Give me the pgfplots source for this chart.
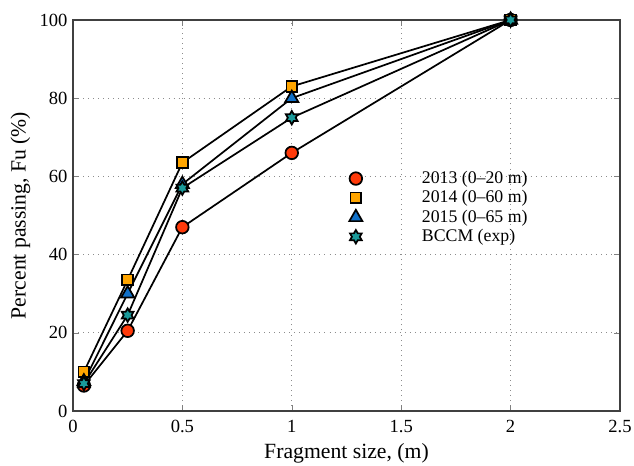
\documentclass[border=0pt]{standalone}
\usepackage{fontspec}
\setmainfont{Liberation Serif}
\usepackage{pgfplots}
\pgfplotsset{compat=1.18}
\definecolor{cRed}{HTML}{FF3A0A}
\definecolor{cOrange}{HTML}{FFA500}
\definecolor{cBlue}{HTML}{1070C8}
\definecolor{cTeal}{HTML}{1A9A9A}
% six-pointed star marker
\pgfdeclareplotmark{hexstar}{%
  \pgfpathmoveto{\pgfqpointpolar{90}{\pgfplotmarksize}}%
  \foreach \a in {120,150,...,420}{%
    \pgfmathsetmacro\r{mod(\a,60)==0 ? 0.58 : 1}%
    \pgfpathlineto{\pgfqpointpolar{\a}{\r\pgfplotmarksize}}%
  }%
  \pgfpathclose
  \pgfusepathqfillstroke}
\begin{document}
\begin{tikzpicture}
\begin{axis}[
    scale only axis,
    width=348pt, height=248.7pt,
    xmin=0, xmax=2.5, ymin=0, ymax=100,
    xtick={0,0.5,1,1.5,2,2.5},
    ytick={0,20,40,60,80,100},
    xticklabels={0,0.5,1,1.5,2,2.5},
    tick align=inside,
    major tick length=4pt,
    axis line style={black!75, line width=0.8pt},
    grid=major,
    grid style={black!45, line width=0.6pt, dash pattern=on 0.6pt off 2.6pt},
    tick label style={font=\fontsize{11.8}{13}\selectfont},
    xticklabel style={yshift=-2.5pt},
    /pgf/number format/assume math mode=true,
    xlabel={Fragment size, (m)},
    ylabel={Percent passing, Fu (\%)},
    label style={font=\fontsize{13.8}{15}\selectfont},
    xlabel style={yshift=0pt},
    ylabel style={yshift=-1pt},
    legend style={at={(axis cs:1.24,63)}, anchor=north west, draw=none, fill=none,
        font=\fontsize{11.3}{12}\selectfont, row sep=-1pt, cells={anchor=west}},
    legend image code/.code={\path (0pt,0pt) (39.5pt,0pt);
        \draw[#1, only marks] plot coordinates {(0pt,0pt)};},
    every axis plot/.append style={black, line width=1.1pt, mark options={solid, line width=0.8pt, draw=black}},
]
\addplot[mark=*, mark size=4pt, mark options={fill=cRed}] coordinates {
    (0.05,6.5) (0.25,20.5) (0.5,47) (1,66) (2,100)};
\addplot[mark=square*, mark size=3.4pt, mark options={fill=cOrange}] coordinates {
    (0.05,10) (0.25,33.5) (0.5,63.5) (1,83) (2,100)};
\addplot[mark=triangle*, mark size=4.8pt, mark options={fill=cBlue}] coordinates {
    (0.05,7.5) (0.25,30) (0.5,58) (1,80) (2,100)};
\addplot[mark=hexstar, mark size=4.3pt, mark options={fill=cTeal}] coordinates {
    (0.05,7) (0.25,24.5) (0.5,57) (1,75) (2,100)};
\legend{2013 (0--20 m), 2014 (0--60 m), 2015 (0--65 m), BCCM (exp)}
\end{axis}
\pgfresetboundingbox
\path ([xshift=-46.4pt,yshift=-35pt]current axis.south west)
    rectangle ([xshift=8.9pt,yshift=12.7pt]current axis.north east);
\end{tikzpicture}
\end{document}
